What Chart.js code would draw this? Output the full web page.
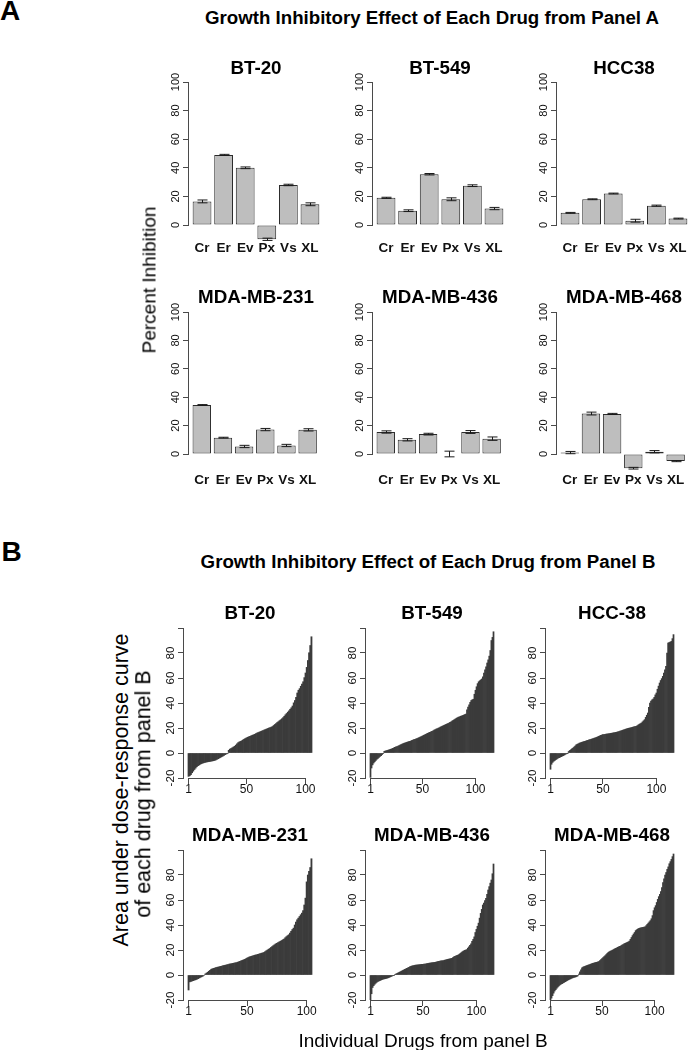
<!DOCTYPE html>
<html>
<head>
<meta charset="utf-8">
<script src="https://cdn.jsdelivr.net/npm/chart.js@4.4.0/dist/chart.umd.min.js"></script>
<style>
html, body { margin: 0; padding: 0; background: #fff; }
body { width: 688px; height: 1050px; position: relative; overflow: hidden; font-family: 'Liberation Sans', Arial, sans-serif; }
canvas { position: absolute; }
.t { position: absolute; white-space: nowrap; line-height: 1; color: #000; transform: translate(-50%, -50%); }
</style>
</head>
<body>
<script>
// ---- panel A: percent inhibition per drug ----
const drugsA = ['Cr', 'Er', 'Ev', 'Px', 'Vs', 'XL'];
const yTicksA = [0, 20, 40, 60, 80, 100];

const inhibBT20 = [16.5, 49, 40, -10, 28, 14.5];
const errBT20 = [1.0, 0.4, 0.6, 0.8, 0.5, 1.0];
const inhibBT549 = [19, 10, 35.5, 18, 27.5, 11.5];
const errBT549 = [0.4, 0.6, 0.5, 1.0, 0.6, 0.8];
const inhibHCC38 = [8.5, 18, 22, 3, 13.5, 4.5];
const errHCC38 = [0.3, 0.3, 0.3, 1.0, 0.4, 0.3];
const inhibMB231 = [34.5, 11.5, 5.3, 17.2, 6, 17];
const errMB231 = [0.3, 0.3, 0.8, 0.8, 0.8, 0.8];
const inhibMB436 = [15.5, 10, 14, 0, 15.5, 10.8];
const errMB436 = [0.8, 0.8, 0.6, 2.0, 1.0, 1.2];
const inhibMB468 = [1, 28.5, 28.2, -10, 1.6, -5];
const errMB468 = [0.8, 1.0, 0.4, 0.6, 0.8, 0.4];

// ---- panel B: area under dose-response curve, drugs sorted ----
const yTicksB = [-20, 0, 20, 40, 60, 80, 100];
const yLabelsB = ['-20', '0', '20', '40', '60', '80', ''];
const xTicksB = [1, 50, 100];

const aucBT20 = [-18.7, -18.2, -17.3, -15.8, -14.5, -13.2, -12.1, -11.0, -10.2, -9.6,
  -9.0, -8.5, -8.1, -7.8, -7.5, -7.3, -7.1, -6.9, -6.8, -6.6,
  -6.4, -6.2, -6.0, -5.6, -5.1, -4.6, -4.1, -3.6, -3.0, -2.5,
  -1.9, -1.3, -0.8, -0.3, 2.2, 3.1, 3.6, 4.2, 4.8, 5.4,
  6.3, 7.4, 8.3, 8.9, 9.3, 9.8, 10.4, 11.0, 11.6, 12.1,
  12.6, 13.0, 13.4, 13.8, 14.2, 14.6, 15.0, 15.5, 16.0, 16.4,
  16.8, 17.2, 17.6, 18.0, 18.4, 18.8, 19.2, 19.6, 20.0, 20.3,
  20.7, 21.2, 22.0, 22.8, 23.6, 24.4, 25.1, 25.9, 26.6, 27.4,
  28.3, 29.4, 30.6, 31.6, 32.7, 33.8, 35.0, 36.2, 37.6, 40.1,
  42.0, 44.5, 48.0, 50.2, 51.5, 53.4, 55.2, 57.0, 60.3, 64.0,
  68.5, 74.0, 80.2, 86.0, 93.0];

const aucBT549 = [-19.5, -12, -9.5, -8, -7, -6, -5, -4.3, -3.5, -2.8,
  -2.2, -1.2, -0.5, 1.3, 1.6, 1.9, 2.1, 2.4, 2.7, 3.0,
  3.3, 3.7, 4.1, 4.5, 4.9, 5.2, 5.6, 6.0, 6.4, 6.8,
  7.2, 7.6, 7.9, 8.2, 8.5, 8.8, 9.1, 9.3, 9.6, 10.0,
  10.3, 10.7, 11.0, 11.3, 11.6, 12.0, 12.4, 12.8, 13.2, 13.6,
  14.1, 14.5, 14.9, 15.4, 15.8, 16.2, 16.6, 17.0, 17.4, 17.8,
  18.3, 18.7, 19.2, 19.5, 19.9, 20.3, 20.8, 21.2, 21.6, 22.0,
  22.4, 22.8, 23.2, 23.6, 24.0, 24.5, 25.0, 25.6, 26.1, 26.7,
  27.2, 27.8, 28.3, 28.7, 29.0, 29.4, 29.7, 30.0, 30.4, 30.8,
  31.2, 34.5, 36.8, 38.5, 40.5, 42.0, 42.6, 43.0, 47.0, 50.2,
  53.0, 55.5, 57.0, 57.8, 58.5, 59.2, 61.0, 64.0, 66.5, 69.0,
  72.0, 74.5, 77.5, 82.0, 90.0, 92.5, 97.0];

const aucHCC38 = [-13, -9, -7.5, -6.6, -6, -5.3, -4.7, -4.1, -3.7, -3.3,
  -2.9, -2.5, -2.1, -1.6, -1.1, -0.6, -0.2, 1.2, 2.0, 2.6,
  3.3, 4.0, 4.8, 5.6, 6.5, 7.0, 7.4, 7.9, 8.2, 8.5,
  8.8, 9.1, 9.3, 9.6, 9.9, 10.2, 10.5, 10.7, 11.0, 11.3,
  11.6, 11.9, 12.2, 12.5, 12.9, 13.3, 13.7, 14.1, 14.4, 14.7,
  14.8, 15.0, 15.1, 15.2, 15.4, 15.5, 15.7, 15.8, 16.0, 16.2,
  16.3, 16.5, 16.7, 17.0, 17.2, 17.5, 17.8, 18.1, 18.4, 18.7,
  19.0, 19.3, 19.6, 19.8, 20.0, 20.2, 20.4, 20.7, 20.9, 21.1,
  21.3, 21.8, 22.4, 23.0, 23.5, 24.0, 24.9, 25.8, 26.7, 28.5,
  30.2, 32.0, 36.5, 40.0, 41.5, 42.6, 43.2, 44.5, 46.5, 48.0,
  51.0, 53.5, 56.0, 58.0, 59.5, 61.3, 64.0, 66.5, 69.3, 80.0,
  88.0, 88.4, 88.8, 89.3, 91.5, 94.7];

const aucMB231 = [-12, -5.5, -5.1, -4.8, -4.5, -4.1, -3.8, -3.4, -2.9, -2.4,
  -1.9, -1.4, -0.9, -0.4, 0.8, 1.5, 2.2, 3.0, 3.8, 4.6,
  5.0, 5.3, 5.6, 5.9, 6.2, 6.4, 6.7, 6.9, 7.2, 7.5,
  7.7, 7.9, 8.2, 8.4, 8.7, 8.9, 9.1, 9.3, 9.5, 9.7,
  9.9, 10.2, 10.6, 10.9, 11.3, 11.7, 12.1, 12.5, 13.0, 13.5,
  14.0, 14.5, 14.8, 15.1, 15.4, 15.7, 16.0, 16.2, 16.5, 16.8,
  17.1, 17.4, 17.7, 18.0, 18.6, 19.3, 19.9, 20.6, 21.2, 22.0,
  22.7, 23.5, 24.2, 24.9, 25.4, 25.9, 26.5, 27.0, 27.6, 28.2,
  28.8, 29.8, 30.7, 31.5, 32.2, 33.5, 35.0, 36.4, 37.5, 40.0,
  42.3, 44.2, 45.5, 46.8, 48.2, 49.5, 51.5, 56.0, 61.5, 74.5,
  80.0, 83.0, 86.0, 93.0];

const aucMB436 = [-20, -15, -10, -8.5, -7.4, -6.5, -5.8, -5.2, -4.8, -4.4,
  -4.0, -3.6, -3.3, -3.1, -2.9, -2.7, -2.4, -2.1, -1.7, -1.3,
  -1.0, -0.6, -0.2, 0.5, 0.9, 1.3, 1.8, 2.2, 2.7, 3.1,
  3.6, 4.0, 4.5, 4.9, 5.3, 5.8, 6.2, 6.7, 7.0, 7.3,
  7.5, 7.7, 7.9, 8.0, 8.1, 8.2, 8.3, 8.4, 8.5, 8.6,
  8.7, 8.8, 9.0, 9.2, 9.3, 9.5, 9.6, 9.8, 9.9, 10.0,
  10.1, 10.3, 10.5, 10.7, 10.9, 11.1, 11.3, 11.4, 11.5, 11.8,
  12.0, 12.3, 12.5, 12.7, 12.9, 13.1, 13.3, 13.9, 14.5, 15.0,
  15.4, 15.7, 16.0, 16.6, 17.3, 18.0, 18.7, 19.2, 19.7, 20.0,
  20.3, 21.5, 22.6, 23.8, 25.0, 27.0, 28.5, 30.5, 34.0, 36.5,
  39.0, 41.5, 45.5, 49.3, 52.5, 56.0, 57.5, 59.5, 61.3, 64.5,
  68.0, 70.7, 73.5, 76.0, 81.0, 88.8];

const aucMB468 = [-20, -18.5, -16.5, -14.5, -12.8, -11.7, -10.6, -9.6, -8.8, -8.0,
  -7.3, -6.9, -6.4, -5.9, -5.4, -4.9, -4.4, -3.9, -3.5, -3.1,
  -2.7, -2.3, -2.0, -1.8, -1.5, -1.2, -0.7, 0.8, 2.5, 4.2,
  5.8, 6.3, 6.7, 7.0, 7.4, 7.7, 8.0, 8.3, 8.6, 9.0,
  9.3, 9.5, 9.8, 10.0, 10.2, 10.5, 10.7, 11.5, 12.3, 13.2,
  14.0, 14.7, 15.5, 16.4, 17.3, 18.1, 18.7, 19.1, 19.5, 19.9,
  20.4, 20.9, 21.3, 21.7, 22.2, 22.6, 23.0, 23.4, 23.9, 24.4,
  24.9, 25.3, 25.7, 26.1, 26.5, 27.1, 28.5, 30.0, 31.5, 32.8,
  34.0, 35.5, 36.2, 36.8, 37.2, 37.5, 37.8, 38.0, 38.2, 38.4,
  38.6, 39.5, 40.5, 41.5, 42.5, 43.5, 45.0, 47.5, 51.5, 53.8,
  55.5, 58.0, 60.5, 62.7, 64.5, 66.7, 70.0, 73.9, 77.0, 80.0,
  82.0, 84.5, 86.5, 89.0, 90.7, 92.5, 94.7, 96.8];

const FONT = "'Liberation Sans', Arial, sans-serif";
const AXIS = '#4a4a4a';
const INK = '#111';

function text(str, cx, cy, size, weight, rot) {
  const d = document.createElement('div');
  d.className = 't';
  d.textContent = str;
  d.style.left = cx + 'px';
  d.style.top = cy + 'px';
  d.style.fontSize = size + 'px';
  d.style.fontWeight = weight || 'normal';
  if (rot) d.style.transform = 'translate(-50%, -50%) rotate(-90deg)';
  document.body.appendChild(d);
}

// canvas placed so that the chart area lands on (L, T, W, H)
const PAD_L = 45, PAD_T = 20, PAD_R = 12, PAD_B = 40;
function makeCanvas(L, T, W, H) {
  const c = document.createElement('canvas');
  const w = W + PAD_L + PAD_R, h = H + PAD_T + PAD_B;
  c.width = w; c.height = h;
  c.style.left = (L - PAD_L) + 'px';
  c.style.top = (T - PAD_T) + 'px';
  c.style.width = w + 'px';
  c.style.height = h + 'px';
  document.body.appendChild(c);
  return c;
}

function errorBars(errs) {
  return {
    id: 'errorBars',
    afterDatasetsDraw(chart) {
      const ctx = chart.ctx, ys = chart.scales.y;
      const pts = chart.data.datasets[0].data;
      ctx.save();
      ctx.strokeStyle = '#1a1a1a';
      ctx.lineWidth = 1;
      chart.getDatasetMeta(0).data.forEach((bar, i) => {
        const x = Math.round(bar.x) + 0.5;
        const lo = ys.getPixelForValue(pts[i].y - errs[i]);
        const hi = ys.getPixelForValue(pts[i].y + errs[i]);
        ctx.beginPath();
        ctx.moveTo(x, lo); ctx.lineTo(x, hi);
        ctx.moveTo(x - 5, lo); ctx.lineTo(x + 5, lo);
        ctx.moveTo(x - 5, hi); ctx.lineTo(x + 5, hi);
        ctx.stroke();
      });
      ctx.restore();
    }
  };
}

// R draws the x axis line only from the first to the last labelled tick
function axisSegment(from, to) {
  return {
    id: 'axisSegment',
    afterDraw(chart) {
      const ctx = chart.ctx, xs = chart.scales.x;
      const y = Math.round(chart.chartArea.bottom) + 0.5;
      ctx.save();
      ctx.strokeStyle = AXIS;
      ctx.lineWidth = 1;
      ctx.beginPath();
      ctx.moveTo(xs.getPixelForValue(from), y);
      ctx.lineTo(xs.getPixelForValue(to), y);
      ctx.stroke();
      ctx.restore();
    }
  };
}

function yAxis(min, max, ticks, labels, size, pad) {
  return {
    min: min, max: max,
    afterBuildTicks: s => { s.ticks = ticks.map(v => ({ value: v })); },
    afterFit: s => { s.width = PAD_L; },
    border: { display: true, color: AXIS, width: 1 },
    grid: { drawOnChartArea: false, drawTicks: true, tickLength: 5, color: AXIS },
    ticks: {
      minRotation: 90, maxRotation: 90, crossAlign: 'center', padding: pad,
      color: INK, font: { family: FONT, size: size },
      callback: (v, i) => labels ? labels[i] : String(v)
    }
  };
}

function chartA(vals, errs, L, T, W, H, labelPad) {
  const canvas = makeCanvas(L, T, W, H);
  new Chart(canvas, {
    type: 'bar',
    data: {
      datasets: [{
        data: drugsA.map((d, i) => ({ x: i + 1, y: vals[i] })),
        backgroundColor: '#bebebe',
        borderColor: '#2b2b2b',
        borderWidth: 1,
        borderSkipped: false,
        barPercentage: 0.87,
        categoryPercentage: 1,
        clip: false
      }]
    },
    options: {
      responsive: false, animation: false, devicePixelRatio: 1,
      layout: { padding: { left: 0, top: PAD_T, right: PAD_R, bottom: 0 } },
      plugins: { legend: { display: false }, tooltip: { enabled: false } },
      scales: {
        x: {
          type: 'linear', min: 0.35, max: 6.65, offset: false,
          afterBuildTicks: s => { s.ticks = drugsA.map((d, i) => ({ value: i + 1 })); },
          afterFit: s => { s.height = PAD_B; },
          grid: { display: false, drawTicks: false },
          border: { display: false },
          ticks: {
            padding: labelPad, autoSkip: false, maxRotation: 0,
            color: INK, font: { family: FONT, size: 13.5, weight: 'bold' },
            callback: (v, i) => drugsA[i]
          }
        },
        y: yAxis(0, 100, yTicksA, null, 11, -1.7)
      }
    },
    plugins: [errorBars(errs)]
  });
}

function chartB(vals, L, T, W, H) {
  const N = vals.length;
  const canvas = makeCanvas(L, T, W, H);
  new Chart(canvas, {
    type: 'bar',
    data: {
      datasets: [{
        data: vals.map((v, i) => ({ x: i + 1, y: v })),
        backgroundColor: '#3b3b3b',
        borderWidth: 0,
        barPercentage: 1,
        categoryPercentage: 1
      }]
    },
    options: {
      responsive: false, animation: false, devicePixelRatio: 1,
      layout: { padding: { left: 0, top: PAD_T, right: PAD_R, bottom: 0 } },
      plugins: { legend: { display: false }, tooltip: { enabled: false } },
      scales: {
        x: {
          type: 'linear', min: 0.5 - 0.04 * N, max: N + 0.5 + 0.04 * N, offset: false,
          afterBuildTicks: s => { s.ticks = xTicksB.map(v => ({ value: v })); },
          afterFit: s => { s.height = PAD_B; },
          grid: { drawOnChartArea: false, drawTicks: true, tickLength: 6, color: AXIS, offset: false },
          border: { display: false },
          ticks: {
            padding: -2, autoSkip: false, maxRotation: 0,
            color: INK, font: { family: FONT, size: 12 },
            callback: (v, i) => String(xTicksB[i])
          }
        },
        y: yAxis(-20, 100, yTicksB, yLabelsB, 11.7, -1.2)
      }
    },
    plugins: [axisSegment(xTicksB[0], xTicksB[xTicksB.length - 1])]
  });
}

// ---- panel A layout ----
const colA = [188, 372, 556], WA = 136;
const cellsA = [
  ['BT-20', inhibBT20, errBT20], ['BT-549', inhibBT549, errBT549], ['HCC38', inhibHCC38, errHCC38],
  ['MDA-MB-231', inhibMB231, errMB231], ['MDA-MB-436', inhibMB436, errMB436], ['MDA-MB-468', inhibMB468, errMB468]
];
cellsA.forEach((c, k) => {
  const row = Math.floor(k / 3), L = colA[k % 3];
  const T = row ? 312 : 82, H = row ? 142 : 143;
  chartA(c[1], c[2], L, T, WA, H, row ? 18.5 : 15.2);
  text(c[0], L + WA / 2, row ? 297 : 68, 18.8, 'bold');
});
text('A', 10, 11, 28, 'bold');
text('Growth Inhibitory Effect of Each Drug from Panel A', 432, 18, 18.7, 'bold');
text('Percent Inhibition', 148.5, 280, 19, 'normal', true);

// ---- panel B layout ----
const colB = [183, 365, 545], WB = 134, HB = 150;
const cellsB = [
  ['BT-20', aucBT20], ['BT-549', aucBT549], ['HCC-38', aucHCC38],
  ['MDA-MB-231', aucMB231], ['MDA-MB-436', aucMB436], ['MDA-MB-468', aucMB468]
];
cellsB.forEach((c, k) => {
  const row = Math.floor(k / 3), L = colB[k % 3];
  const T = row ? 850 : 628;
  chartB(c[1], L, T, WB, HB);
  text(c[0], L + WB / 2, row ? 835 : 613, 18.8, 'bold');
});
text('B', 11.5, 552, 28, 'bold');
text('Growth Inhibitory Effect of Each Drug from Panel B', 428, 562, 18.7, 'bold');
text('Area under dose-response curve', 121.5, 790, 21.5, 'normal', true);
text('of each drug from panel B', 144, 794, 21.5, 'normal', true);
text('Individual Drugs from panel B', 423, 1040, 19, 'normal');
</script>
</body>
</html>
